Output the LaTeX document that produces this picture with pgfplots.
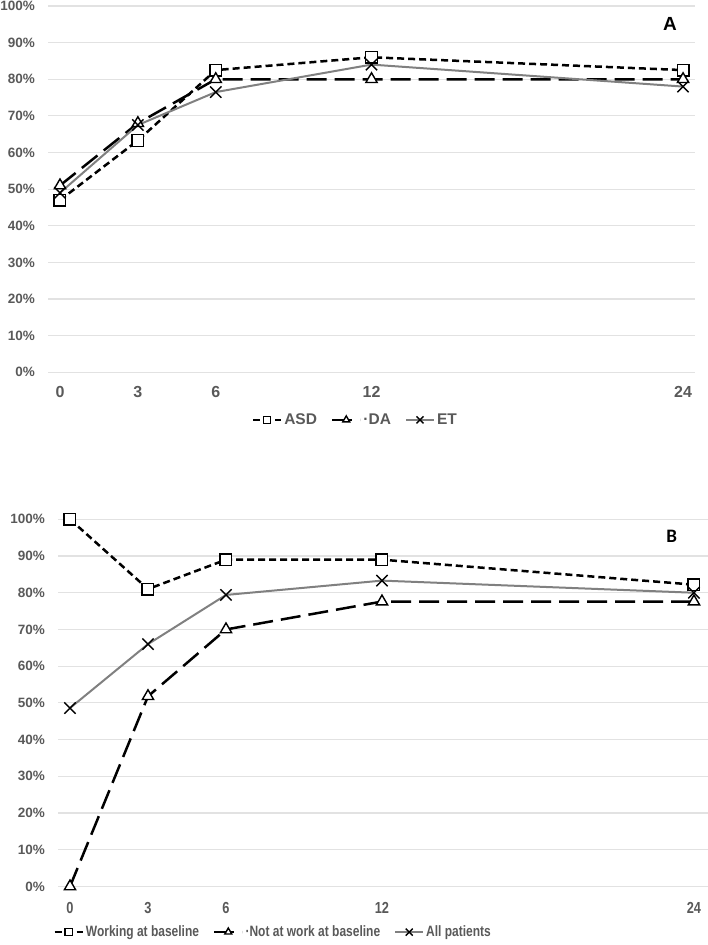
\documentclass[border=0pt]{standalone}
\usepackage{fontspec}
\setmainfont{Liberation Sans}
\newfontfamily\narrowfont[FakeStretch=0.8]{Liberation Sans}
\newfontfamily\calibrifont{Carlito}
\usepackage{pgfplots}
\pgfplotsset{compat=1.18}
\definecolor{txt}{HTML}{595959}
\definecolor{etgray}{HTML}{808080}
\definecolor{gridc}{HTML}{E2E2E2}
\pgfplotsset{
  common/.style={
    scale only axis, anchor=south west,
    ymin=0, ymax=100,
    axis line style={draw=none},
    major tick length=0pt,
    xtick={0,3,6,12,24},
    ytick={0,10,...,100},
    ymajorgrids, grid style={color=gridc, line width=1.2pt},
    clip=false,
    /pgf/number format/assume math mode=true,
    yticklabel={\pgfmathprintnumber{\tick}\%},
    yticklabel style={text=txt, inner sep=0pt, anchor=east, xshift=-13pt, font=\fontsize{13.5}{16}\selectfont\bfseries},
    legend columns=3,
    legend cell align=left,
    legend image code/.code={\draw[mark repeat=2,mark phase=2,#1, every mark/.append style={scale=0.62}] plot coordinates {(0pt,0pt)(14pt,0pt)(28pt,0pt)};},
  },
  sq/.style={black, line width=2.5pt, dash pattern=on 7pt off 4pt, mark=square*, mark size=5.8pt, mark options={solid, fill=white, line width=1.4pt}},
  tri/.style={black, line width=2.5pt, dash pattern=on 20pt off 8pt, mark=triangle*, mark size=6.5pt, mark options={solid, fill=white, line width=1.4pt}},
  crs/.style={etgray, line width=2pt, mark=x, mark size=8pt, mark options={solid, draw=black, line width=1.4pt}},
}
\begin{document}
\begin{tikzpicture}[x=1pt,y=1pt]
\path[use as bounding box] (0,0) rectangle (708,945);
% Panel A
\begin{axis}[common,
  at={(48pt,572.7pt)}, width=647pt, height=366.3pt,
  xmin=-0.462, xmax=24.46,
  xticklabel style={text=txt, inner sep=0pt, anchor=north, yshift=-14pt, font=\fontsize{16}{18}\selectfont\bfseries},
  legend style={draw=none, fill=none, at={(0.31,-0.130)}, anchor=west, text=txt, font=\fontsize{15.5}{18}\selectfont\bfseries,
    /tikz/every even column/.append style={column sep=12pt}},
]
\addplot[sq] coordinates {(0,47)(3,63.3)(6,82.5)(12,86)(24,82.5)};
\addplot[tri] coordinates {(0,51)(3,68)(6,80)(12,80)(24,80)};
\addplot[crs] coordinates {(0,49)(3,67.5)(6,76.5)(12,84)(24,78)};
\legend{ASD, ·DA, ET}
\end{axis}
\node[font=\fontsize{19}{19}\selectfont\bfseries] at (670pt,920.7pt) {A};
% Panel B
\begin{axis}[common,
  at={(58pt,58.5pt)}, width=650pt, height=367.2pt,
  xmin=-0.4615, xmax=24.54,
  xticklabel style={text=txt, inner sep=0pt, anchor=north, yshift=-15.5pt, font=\fontsize{16}{18}\narrowfont\bfseries},
  legend style={draw=none, fill=none, at={(-0.012,-0.124)}, anchor=west, text=txt, font=\fontsize{15}{18}\narrowfont\bfseries,
    /tikz/every even column/.append style={column sep=12pt}},
]
\addplot[sq] coordinates {(0,100)(3,81)(6,89)(12,89)(24,82.2)};
\addplot[tri] coordinates {(0,0)(3,51.8)(6,70)(12,77.6)(24,77.6)};
\addplot[crs] coordinates {(0,48.6)(3,66)(6,79.4)(12,83.3)(24,80)};
\legend{Working at baseline, ·Not at work at baseline, All patients}
\end{axis}
\node[font=\fontsize{19}{19}\calibrifont\bfseries] at (671.7pt,409pt) {B};
\end{tikzpicture}
\end{document}
